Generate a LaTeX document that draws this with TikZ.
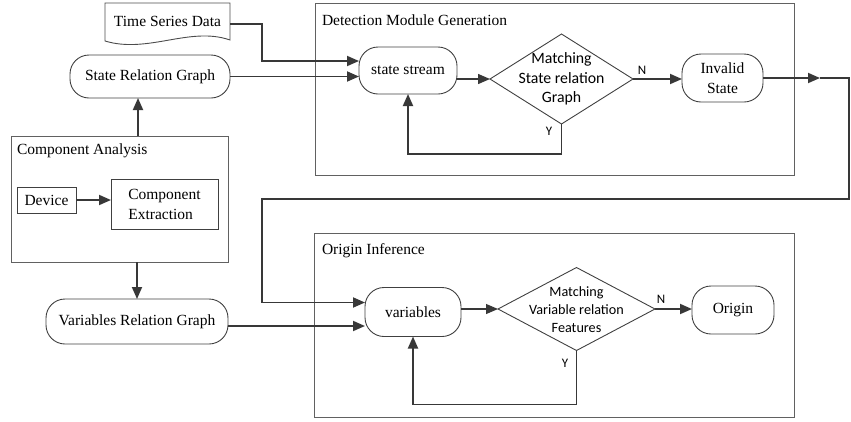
\documentclass[tikz,border=0pt]{standalone}
\usepackage{fontspec}
\setmainfont{Liberation Serif}
\newfontfamily\calib{Carlito}
\usetikzlibrary{arrows.meta,shapes.geometric}

\begin{document}
\begin{tikzpicture}[x=1pt,y=-1pt,
  every node/.style={inner sep=0pt, outer sep=0pt},
  txt/.style={font=\fontsize{15.5}{20}\selectfont},
  frame/.style={draw=black!62, line width=0.9pt},
  pill/.style={draw=black!75, line width=0.9pt, rounded corners=19pt, txt, align=center},
  plain/.style={draw=black!75, line width=0.9pt, txt, align=center},
  decide/.style={diamond, draw=black!75, line width=0.9pt, inner sep=0pt},
  dtext/.style={align=center},
  conn/.style={draw=black!78, line width=1.8pt, -{Triangle[length=12pt,width=10pt]}},
  yn/.style={font=\calib\fontsize{13}{14}\selectfont},
  grouplabel/.style={txt, anchor=west}
]
\useasboundingbox (0,0) rectangle (851,421);

% ---- group frames ----
\node[frame, minimum width=217, minimum height=126] (ca) at (119.5,199) {};
\node[grouplabel] (calab) at (17,151) {Component Analysis};
\node[frame, minimum width=479, minimum height=172] (dmg) at (554.5,89) {};
\node[grouplabel] (dmglab) at (322,20) {Detection Module Generation};
\node[frame, minimum width=480, minimum height=184] (oi) at (554,325) {};
\node[grouplabel] (oilab) at (322,251) {Origin Inference};

% ---- input document ----
\node[txt, minimum width=125] (tsd) at (167.5,21) {Time Series Data};
\draw[draw=black!70, line width=0.9pt]
  (105,41) -- (105,3) -- (230,3) -- (230,40)
  .. controls (190,26) and (148,54) .. (105,41) -- cycle;

% ---- left column ----
\node[pill, minimum width=160, minimum height=43] (srg) at (150,76.5) {State Relation Graph};
\node[plain, minimum width=59, minimum height=26] (dev) at (46.5,200) {Device};
\node[plain, align=left, minimum width=107, minimum height=50] (cex) at (164.5,204) {Component\\Extraction};
\node[pill, minimum width=182, minimum height=45] (vrg) at (137,321.5) {Variables Relation Graph};

% ---- detection module ----
\node[pill, minimum width=98, minimum height=47] (ss) at (408,70.5) {state stream};
\node[decide, minimum width=143, minimum height=90] (d1) at (561.5,79) {};
\node[dtext, font=\calib\fontsize{15.8}{19.5}\selectfont] (d1t) at (561.5,79) {Matching\\State relation\\Graph};
\node[pill, minimum width=81, minimum height=48] (inv) at (722.5,78) {Invalid\\State};

% ---- origin inference ----
\node[pill, minimum width=96, minimum height=49] (var) at (413,312) {variables};
\node[decide, minimum width=157, minimum height=83] (d2) at (576.5,309) {};
\node[dtext, font=\calib\fontsize{14.2}{18}\selectfont] (d2t) at (576.5,310) {Matching\\Variable relation\\Features};
\node[pill, minimum width=82, minimum height=48] (ori) at (733,310) {Origin};

% ---- branch labels ----
\node[yn] (n1) at (642,70) {N};
\node[yn] (y1) at (549,131) {Y};
\node[yn] (n2) at (661,299) {N};
\node[yn] (y2) at (565,363) {Y};

% ---- connectors ----
\coordinate (jn) at (820,78);
\draw[conn] ([yshift=-3pt]tsd.east) -- ++(32,0) |- ([yshift=9.5pt]ss.west);
\draw[conn] (srg.east) -- (srg.east -| ss.west);
\draw[conn] ([xshift=18.5pt]ca.north) -- ([xshift=18.5pt]ca.north |- srg.south);
\draw[conn] (ca.south -| vrg.north) -- (vrg.north);
\draw[conn] (dev.east) -- (dev.east -| cex.west);
\draw[conn] ([yshift=-4.5pt]vrg.east) -- ([yshift=-4.5pt]vrg.east -| var.west);

\draw[conn, line width=1.4pt] (d1.west -| ss.east) -- (d1.west);
\draw[conn] (d1.east) -- (d1.east -| inv.west);
\draw[conn] (d1.south) -- ++(0,30) -| (ss.south);
\draw[conn] (inv.east) -- (jn);
\draw[conn] (jn) -- (849,78) -- (849,199) -- (262,199) |- ([yshift=9.5pt]var.west);

\draw[conn, line width=1.1pt] (var.east |- d2.west) -- (d2.west);
\draw[conn] (d2.east) -- (d2.east -| ori.west);
\draw[conn] (d2.south) -- ++(0,54) -| (var.south);
\end{tikzpicture}
\end{document}
